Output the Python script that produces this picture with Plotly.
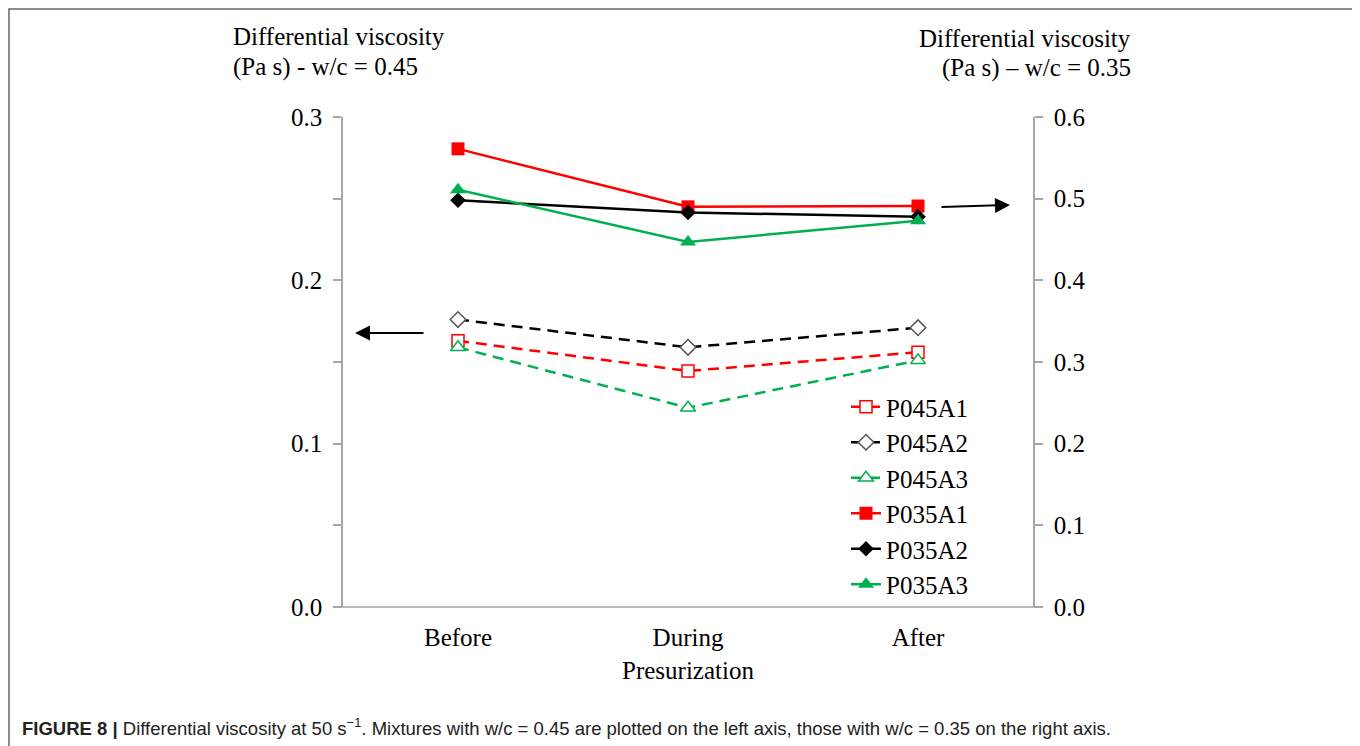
import plotly.graph_objects as go

categories = ["Before", "During", "After"]
p045a1 = [0.163, 0.1445, 0.156]
p045a2 = [0.176, 0.159, 0.171]
p045a3 = [0.159, 0.122, 0.151]
p035a1 = [0.561, 0.490, 0.491]
p035a2 = [0.498, 0.483, 0.478]
p035a3 = [0.511, 0.447, 0.473]
left_ticks = [0.0, 0.1, 0.2, 0.3]
right_ticks = [0.0, 0.1, 0.2, 0.3, 0.4, 0.5, 0.6]

RED = "#FF0000"
BLACK = "#000000"
GREEN = "#00B050"
SERIF = "Liberation Serif, Times New Roman, serif"

W, H = 1360, 746
OFF = 8  # page body margin
L, R, T, B = 343, 1033, 117, 607  # target page pixel positions of plot area


def px(x):
    return (x - L) / (R - L)


def py(y):
    return (B - y) / (B - T)


fig = go.Figure()

dashed = [
    ("P045A1", p045a1, RED, "square", RED, 12),
    ("P045A2", p045a2, BLACK, "diamond", "#555555", 12),
    ("P045A3", p045a3, GREEN, "triangle-up", GREEN, 13),
]
for name, vals, col, sym, mcol, sz in dashed:
    fig.add_trace(go.Scatter(
        x=categories, y=vals, name=name, mode="lines+markers",
        line=dict(color=col, width=2.5, dash="11px,7px"),
        marker=dict(symbol=sym, size=sz, color="white",
                    line=dict(color=mcol, width=1.5)),
        yaxis="y",
    ))

solid = [
    ("P035A1", p035a1, RED, "square", 13),
    ("P035A2", p035a2, BLACK, "diamond", 12),
    ("P035A3", p035a3, GREEN, "triangle-up", 14),
]
for name, vals, col, sym, sz in solid:
    fig.add_trace(go.Scatter(
        x=categories, y=vals, name=name, mode="lines+markers",
        line=dict(color=col, width=2.5),
        marker=dict(symbol=sym, size=sz, color=col, line=dict(width=0)),
        yaxis="y2",
    ))

axis_gray = "#A6A6A6"
fig.update_layout(
    width=W, height=H,
    margin=dict(l=L - OFF, r=W - (R - OFF), t=T - OFF, b=H - (B - OFF), pad=0),
    paper_bgcolor="white", plot_bgcolor="white",
    font=dict(family=SERIF, size=25, color="black"),
    showlegend=True,
    legend=dict(x=px(846), y=py(384), xanchor="left", yanchor="top",
                bgcolor="rgba(0,0,0,0)", font=dict(family=SERIF, size=25),
                tracegroupgap=0, itemwidth=30),
    xaxis=dict(
        type="category", range=[-0.5, 2.5], showgrid=False, zeroline=False,
        showline=False, ticks="outside", ticklen=8, tickcolor="rgba(0,0,0,0)",
        tickfont=dict(family=SERIF, size=25),
        title=dict(text="Presurization", font=dict(family=SERIF, size=25), standoff=11),
    ),
    yaxis=dict(
        range=[0, 0.3], tickvals=left_ticks, tickformat=".1f", showgrid=False,
        zeroline=False, showline=True, linecolor=axis_gray, linewidth=1.5,
        ticks="outside", ticklen=8, tickcolor=axis_gray, tickwidth=1.5,
        minor=dict(dtick=0.05, ticks="outside", ticklen=8, tickcolor=axis_gray, tickwidth=1.5),
        tickfont=dict(family=SERIF, size=25), ticklabelstandoff=6,
    ),
    yaxis2=dict(
        range=[0, 0.6], tickvals=right_ticks, tickformat=".1f", showgrid=False,
        zeroline=False, showline=True, linecolor=axis_gray, linewidth=1.5,
        ticks="outside", ticklen=8, tickcolor=axis_gray, tickwidth=1.5,
        overlaying="y", side="right", tickfont=dict(family=SERIF, size=25),
        ticklabelstandoff=6,
    ),
)

# bottom axis line extending under ticks
fig.add_shape(type="line", xref="paper", yref="paper",
              x0=px(335), x1=px(1041), y0=0, y1=0,
              line=dict(color=axis_gray, width=1.5))
# outer frame
fig.add_shape(type="rect", xref="paper", yref="paper",
              x0=px(9), x1=px(1355), y0=py(770), y1=py(9),
              line=dict(color="#666666", width=1.5), layer="below")

ann = [
    dict(text="Differential viscosity", x=px(231), y=py(36), xanchor="left"),
    dict(text="(Pa s) - w/c = 0.45", x=px(231), y=py(67), xanchor="left"),
    dict(text="Differential viscosity", x=px(1133), y=py(38), xanchor="right"),
    dict(text="(Pa s) \u2013 w/c = 0.35", x=px(1133), y=py(68), xanchor="right"),
]
for a in ann:
    fig.add_annotation(xref="paper", yref="paper", yanchor="middle", showarrow=False,
                       font=dict(family=SERIF, size=25, color="black"), **a)

# arrows
fig.add_annotation(xref="paper", yref="paper", x=px(355), y=py(333), ax=70, ay=0,
                   text="", showarrow=True, arrowhead=2, arrowsize=1.5,
                   arrowwidth=2, arrowcolor="black")
fig.add_annotation(xref="paper", yref="paper", x=px(1010), y=py(205), ax=-70, ay=2,
                   text="", showarrow=True, arrowhead=2, arrowsize=1.5,
                   arrowwidth=2, arrowcolor="black")

# caption
fig.add_annotation(
    xref="paper", yref="paper", x=px(20), y=py(727), xanchor="left", yanchor="middle",
    showarrow=False,
    text="<b>FIGURE 8 |</b> Differential viscosity at 50 s<sup>\u22121</sup>. Mixtures with w/c = 0.45 "
         "are plotted on the left axis, those with w/c = 0.35 on the right axis.",
    font=dict(family="Liberation Sans, Arial, sans-serif", size=18.5, color="#222222"),
)

fig.write_html("out.html")
